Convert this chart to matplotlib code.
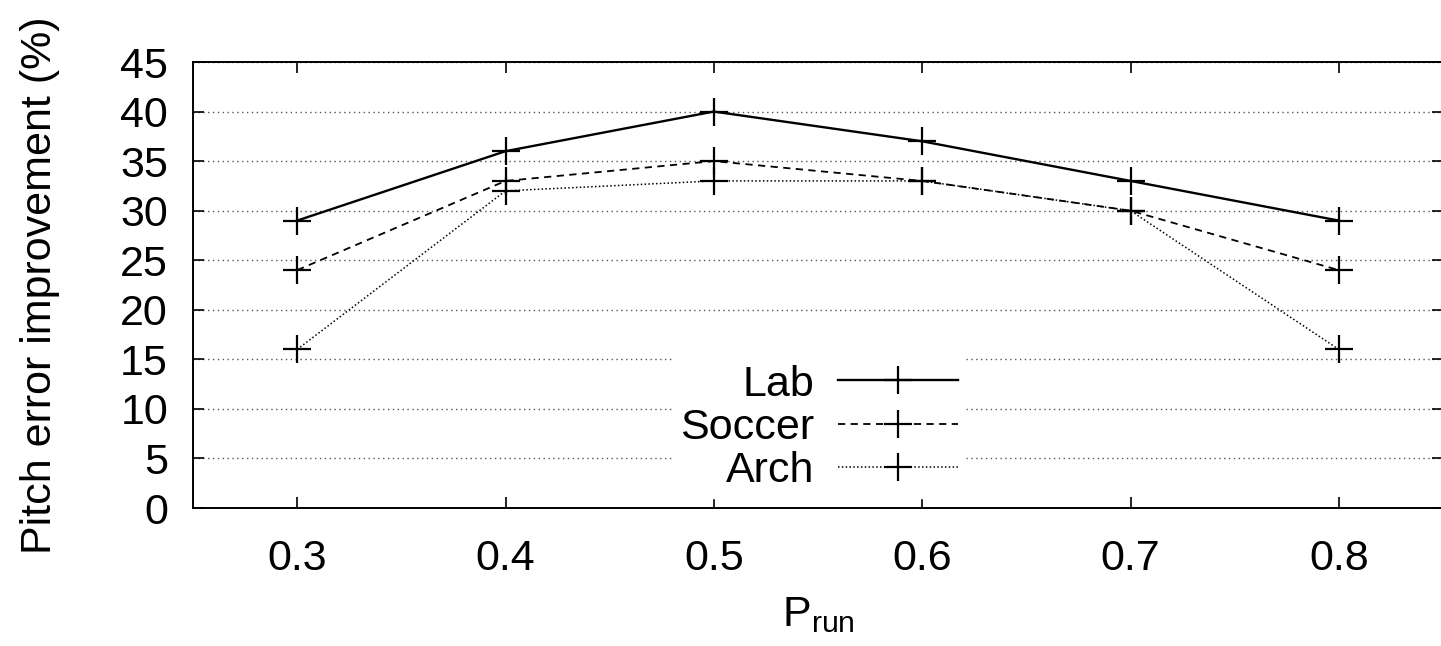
import matplotlib
matplotlib.use("Agg")
import matplotlib.pyplot as plt

plt.rcParams['font.family'] = ['Liberation Sans', 'DejaVu Sans']
plt.rcParams['mathtext.fontset'] = 'custom'
plt.rcParams['mathtext.rm'] = 'Liberation Sans'
plt.rcParams['mathtext.it'] = 'Liberation Sans'

p_run = [0.3, 0.4, 0.5, 0.6, 0.7, 0.8]
lab = [29, 36, 40, 37, 33, 29]
soccer = [24, 33, 35, 33, 30, 24]
arch = [16, 32, 33, 33, 30, 16]

y_ticks = [0, 5, 10, 15, 20, 25, 30, 35, 40, 45]
x_ticks = [0.3, 0.4, 0.5, 0.6, 0.7, 0.8]

fs = 31

fig = plt.figure(figsize=(14.41, 6.46), dpi=100)
ax = fig.add_axes([193 / 1441, 138 / 646, 1250 / 1441, 446 / 646])

mk = dict(marker='+', markersize=20, markeredgewidth=1.6, color='black')
ax.plot(p_run, lab, linestyle='-', linewidth=1.7, label='Lab', **mk)
ax.plot(p_run, soccer, linestyle=(0, (4, 3)), linewidth=1.3, label='Soccer', **mk)
ax.plot(p_run, arch, linestyle=(0, (1, 1.5)), linewidth=1.1, label='Arch', **mk)

ax.set_xlim(0.25, 0.85)
ax.set_ylim(0, 45)
ax.set_xticks(x_ticks)
ax.set_xticklabels([f'{v:.1f}' for v in x_ticks])
ax.set_yticks(y_ticks)

ax.yaxis.grid(True, linestyle=(0, (1, 2.5)), color='#555555', linewidth=1.0)
ax.set_axisbelow(True)

ax.tick_params(direction='in', length=8, width=1.2, top=True, right=True,
               labelsize=fs, colors='black')
ax.tick_params(axis='y', pad=18)
ax.tick_params(axis='x', pad=22)
for s in ax.spines.values():
    s.set_linewidth(1.4)

ax.set_ylabel('Pitch error improvement (%)', fontsize=fs, labelpad=43)
ax.set_xlabel(r'P$_{\mathrm{run}}$', fontsize=fs, labelpad=12)

leg = ax.legend(loc='center', bbox_to_anchor=(819 / 1441, 1 - 428 / 646),
                bbox_transform=fig.transFigure, frameon=True, fontsize=fs,
                markerfirst=False, handlelength=2.8, handletextpad=0.55,
                labelspacing=0.08, borderpad=0.15, fancybox=False)
leg.get_frame().set_edgecolor('white')
leg.get_frame().set_facecolor('white')
leg.get_frame().set_alpha(1.0)
for t in leg.get_texts():
    t.set_ha('right')

fig.savefig('out.png', dpi=100)
